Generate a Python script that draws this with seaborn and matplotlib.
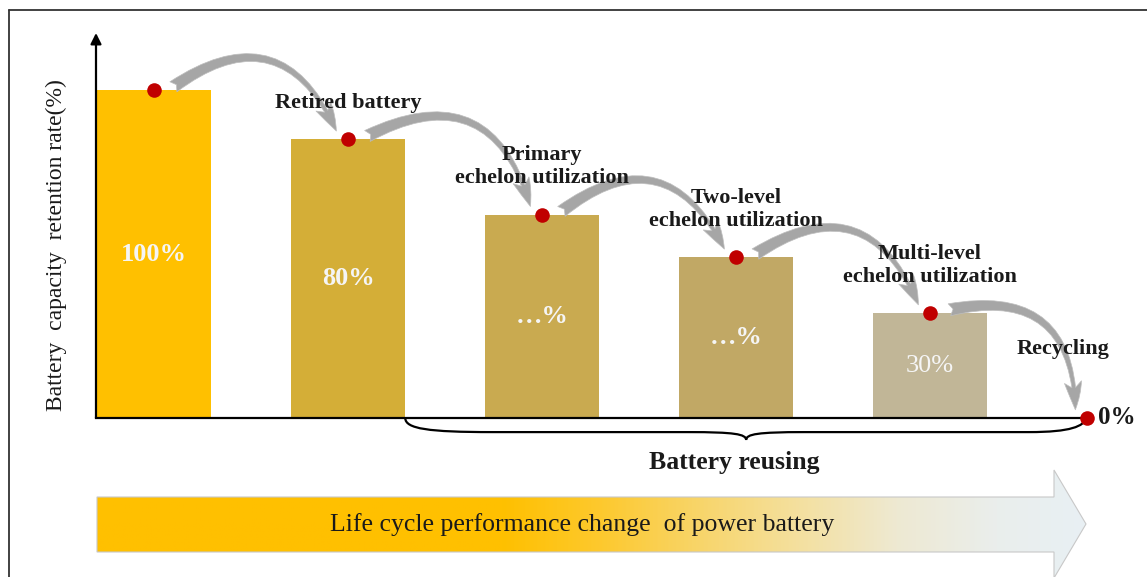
import numpy as np
import pandas as pd
import matplotlib
matplotlib.use('Agg')
import matplotlib.pyplot as plt
import seaborn as sns
from matplotlib.patches import FancyArrowPatch, PathPatch, Polygon
from matplotlib.path import Path
from matplotlib.colors import LinearSegmentedColormap

# data
stages = ['New battery', 'Retired battery', 'Primary echelon utilization',
          'Two-level echelon utilization', 'Multi-level echelon utilization', 'Recycling']
retention = [100, 85, 62, 49, 32, 0]
bar_labels = ['100%', '80%', '…%', '…%', '30%', '']
stage_labels = ['', 'Retired battery', 'Primary\nechelon utilization',
                'Two-level\nechelon utilization', 'Multi-level\nechelon utilization', 'Recycling']
bar_colors = ['#FFC000', '#D4AE37', '#C9AA50', '#C1A865', '#C1B697']
label_weights = ['bold', 'bold', 'bold', 'bold', 'normal']

df = pd.DataFrame({'stage': stages, 'retention': retention})
df_bars = df.iloc[:-1]  # recycling has no bar, only the end point

sns.set_theme(style='white')
plt.rcParams['font.family'] = ['Liberation Serif', 'DejaVu Serif']

W, H = 1147, 577
fig = plt.figure(figsize=(W / 100, H / 100), dpi=100)

# background layer in pixel coords: frame + life-cycle arrow
bg = fig.add_axes([0, 0, 1, 1], zorder=-1)
bg.set_xlim(0, W)
bg.set_ylim(H, 0)
bg.axis('off')
bg.plot([9, 9], [H + 5, 10], color='#333333', lw=1.3)
bg.plot([9, W + 5], [10, 10], color='#333333', lw=1.3)

arrow_pts = [(97, 497), (1054, 497), (1054, 470), (1086, 524), (1054, 578), (1054, 552), (97, 552)]
poly = Polygon(arrow_pts, closed=True, facecolor='none', edgecolor='#C8C8C8', lw=0.8, zorder=3)
bg.add_patch(poly)
grad_cmap = LinearSegmentedColormap.from_list('life', [
    (0.0, '#FFC000'), (0.41, '#FFC000'), (0.51, '#FDC92E'), (0.61, '#F8D56A'),
    (0.71, '#F4E09F'), (0.81, '#EEE9D2'), (0.91, '#EAEEEC'), (1.0, '#E8F0F4')])
grad = np.linspace(0, 1, 512).reshape(1, -1)
im = bg.imshow(grad, cmap=grad_cmap, aspect='auto', extent=(97, 1086, 578, 470), zorder=2)
im.set_clip_path(poly)
bg.text(582, 525, 'Life cycle performance change  of power battery', fontsize=18.5,
        ha='center', va='center', color='#1A1A1A', zorder=4)

# main chart
ax = fig.add_axes([96 / W, 159 / H, 991 / W, 385 / H])
ax.patch.set_alpha(0)
bar_w = 0.59
sns.barplot(data=df_bars, x='stage', y='retention', hue='stage', palette=bar_colors,
            legend=False, width=bar_w, saturation=1, linewidth=0, ax=ax)
ax.set_xlim(-0.299, 4.809)
ax.set_ylim(0, 117.4)
ax.set_xticks([])
ax.set_yticks([])
ax.set_xlabel('')
ax.set_ylabel('Battery  capacity  retention rate(%)', fontsize=17, color='#1A1A1A')
ax.yaxis.set_label_coords(-29 / 991, 0.45)
for s in ['top', 'right', 'left']:
    ax.spines[s].set_visible(False)
ax.spines['bottom'].set_color('black')
ax.spines['bottom'].set_linewidth(1.6)
ax.annotate('', xy=(0, 1), xytext=(0, 0), xycoords='axes fraction',
            arrowprops=dict(arrowstyle='-|>', lw=1.6, color='black', mutation_scale=16,
                            shrinkA=0, shrinkB=0))

# stage x: bars at their category, recycling at the end of the x axis
x_end = ax.get_xlim()[1]
stage_x = np.append(np.arange(len(df_bars)), x_end)

# values inside the bars
for i, (h, lab) in enumerate(zip(df_bars['retention'], bar_labels)):
    ax.text(i, h / 2, lab, ha='center', va='center', color='#F5F5F5',
            fontsize=19, fontweight=label_weights[i])

# curved arrows between stages
for i in range(len(stages) - 1):
    arr = FancyArrowPatch((stage_x[i] + 0.1, retention[i] + 1),
                          (stage_x[i + 1] - 0.06, retention[i + 1] + 2.5),
                          connectionstyle='arc3,rad=-0.6',
                          arrowstyle='fancy,head_length=1.0,head_width=0.62,tail_width=0.44',
                          mutation_scale=20, facecolor='#A6A6A6', edgecolor='#BEBEBE',
                          lw=0.5, shrinkA=0, shrinkB=0, clip_on=False, zorder=4)
    ax.add_patch(arr)

# red points
ax.scatter(stage_x, retention, s=110, color='#C00000', zorder=6, clip_on=False, linewidths=0)

# stage names
for i, lab in enumerate(stage_labels[:-1]):
    if lab:
        ax.text(stage_x[i], retention[i] + 8, lab, ha='center', va='bottom', fontsize=16,
                fontweight='bold', color='#1A1A1A', linespacing=1.2, zorder=7)
ax.text(stage_x[-1] - 0.124, retention[-1] + 21, stage_labels[-1], ha='center', va='center',
        fontsize=16, fontweight='bold', color='#1A1A1A', zorder=7)
ax.text(stage_x[-1] + 0.055, retention[-1], '0%', ha='left', va='center', fontsize=18,
        fontweight='bold', color='#1A1A1A', clip_on=False)

# brace under the reusing stages
x0 = 1 + bar_w / 2
x1 = stage_x[-1]
xm = (x0 + x1) / 2
yb, yt = -4.3, -6.7
verts = [(x0, 0), (x0, -3.3), (x0 + 0.12, yb), (x0 + 0.45, yb),
         (xm - 0.3, yb),
         (xm - 0.06, yb), (xm, yb - 0.6), (xm, yt),
         (xm, yb - 0.6), (xm + 0.06, yb), (xm + 0.3, yb),
         (x1 - 0.3, yb),
         (x1 - 0.08, yb), (x1 - 0.02, -2.5), (x1, 0)]
codes = [Path.MOVETO, Path.CURVE4, Path.CURVE4, Path.CURVE4,
         Path.LINETO,
         Path.CURVE4, Path.CURVE4, Path.CURVE4,
         Path.CURVE4, Path.CURVE4, Path.CURVE4,
         Path.LINETO,
         Path.CURVE4, Path.CURVE4, Path.CURVE4]
ax.add_patch(PathPatch(Path(verts, codes), facecolor='none', edgecolor='black',
                       lw=1.6, clip_on=False, zorder=3))
ax.text(xm - 0.06, -13.5, 'Battery reusing', ha='center', va='center', fontsize=18.5,
        fontweight='bold', color='#1A1A1A')

fig.savefig('out.png', dpi=100)
